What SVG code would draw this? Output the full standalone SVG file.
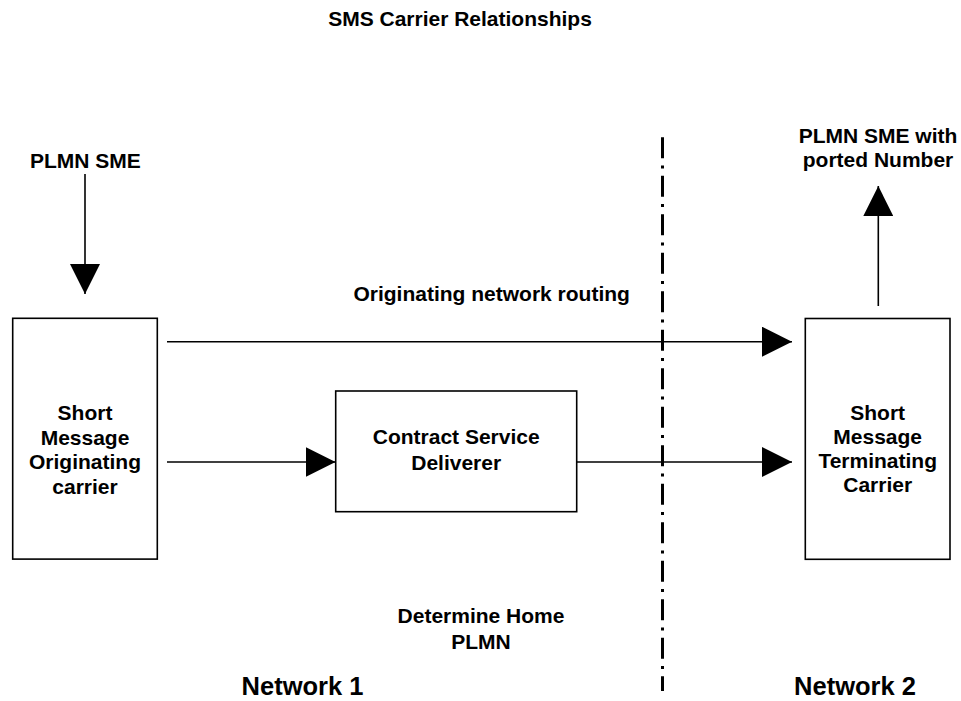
<svg xmlns="http://www.w3.org/2000/svg" width="961" height="701" viewBox="0 0 961 701">
<defs>
<style>
text{font-family:"Liberation Sans",Arial,sans-serif;font-weight:bold;font-size:21px;fill:#000;text-anchor:middle}
.big{font-size:25.5px}
.box{fill:#fff;stroke:#000;stroke-width:1.6}
.conn{stroke:#000;stroke-width:1.6;fill:none}
.div{stroke:#000;stroke-width:3;fill:none;stroke-dasharray:21 7.3 2.9 7.3}
</style>
<marker id="ah" viewBox="0 0 30 30" refX="30" refY="15" markerWidth="30" markerHeight="30" markerUnits="userSpaceOnUse" orient="auto">
<path d="M0,0 L30,15 L0,30 z" fill="#000"/>
</marker>
</defs>
<rect width="961" height="701" fill="#fff"/>
<text id="title" x="460" y="26">SMS Carrier Relationships</text>
<g id="divider">
<line class="div" x1="662.5" y1="137.2" x2="662.5" y2="691"/>
</g>
<g id="connectors">
<line class="conn" x1="85" y1="174" x2="85" y2="294" marker-end="url(#ah)"/>
<line class="conn" x1="167" y1="341.7" x2="792" y2="341.7" marker-end="url(#ah)"/>
<line class="conn" x1="167" y1="462" x2="335.5" y2="462" marker-end="url(#ah)"/>
<line class="conn" x1="577" y1="462" x2="792" y2="462" marker-end="url(#ah)"/>
<line class="conn" x1="878.3" y1="306" x2="878.3" y2="186" marker-end="url(#ah)"/>
</g>
<g id="plmn-sme">
<text x="85.3" y="167.5">PLMN SME</text>
</g>
<g id="plmn-sme-ported">
<text x="878" y="143.3">PLMN SME with</text>
<text x="878" y="167.3">ported Number</text>
</g>
<g id="routing-label">
<text x="491.7" y="301">Originating network routing</text>
</g>
<g id="originating-carrier">
<rect class="box" x="12.7" y="318.3" width="144.6" height="240.8"/>
<text x="85" y="419.8">Short</text>
<text x="85" y="444.5">Message</text>
<text x="85" y="469.2">Originating</text>
<text x="85" y="493.9">carrier</text>
</g>
<g id="contract-service">
<rect class="box" x="335.7" y="391" width="241" height="120.7"/>
<text x="456.2" y="444">Contract Service</text>
<text x="456.2" y="470">Deliverer</text>
</g>
<g id="terminating-carrier">
<rect class="box" x="805.3" y="318.5" width="144.7" height="240.8"/>
<text x="877.7" y="419.5">Short</text>
<text x="877.7" y="443.7">Message</text>
<text x="877.7" y="467.9">Terminating</text>
<text x="877.7" y="492.1">Carrier</text>
</g>
<g id="home-plmn">
<text x="481" y="622.7">Determine Home</text>
<text x="481" y="649.3">PLMN</text>
</g>
<g id="network-labels">
<text class="big" x="302.5" y="695">Network 1</text>
<text class="big" x="855" y="695">Network 2</text>
</g>
</svg>
